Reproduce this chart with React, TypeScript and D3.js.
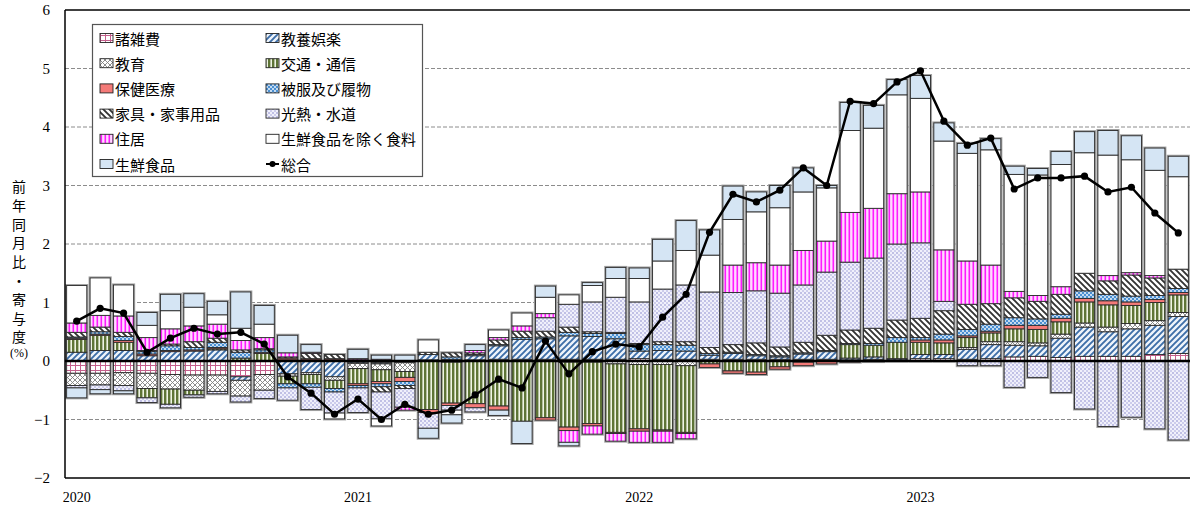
import React from "react";
import * as d3 from "d3";

const months = [
  "2020-01","2020-02","2020-03","2020-04","2020-05","2020-06","2020-07","2020-08","2020-09","2020-10","2020-11","2020-12",
  "2021-01","2021-02","2021-03","2021-04","2021-05","2021-06","2021-07","2021-08","2021-09","2021-10","2021-11","2021-12",
  "2022-01","2022-02","2022-03","2022-04","2022-05","2022-06","2022-07","2022-08","2022-09","2022-10","2022-11","2022-12",
  "2023-01","2023-02","2023-03","2023-04","2023-05","2023-06","2023-07","2023-08","2023-09","2023-10","2023-11","2023-12",
];
const yearLabels = [
  { month: "2020-01", label: "2020" },
  { month: "2021-01", label: "2021" },
  { month: "2022-01", label: "2022" },
  { month: "2023-01", label: "2023" },
];
const yTicks = [-2, -1, 0, 1, 2, 3, 4, 5, 6];

// 諸雑費
const misc = [-0.21,-0.21,-0.2,-0.21,-0.23,-0.24,-0.24,-0.27,-0.23,0.02,0.02,0.02,
  -0.02,-0.03,-0.03,0.02,-0.02,0.02,0.03,0.03,0.03,0.03,0.03,0.03,
  0.04,0.03,0.03,0.03,0.03,0.03,0.03,0.03,0.03,0.02,0.03,0.02,
  0.04,0.04,0.03,0.04,0.07,0.08,0.06,0.08,0.08,0.08,0.11,0.13];
// 教養娯楽
const culture = [0.15,0.18,0.18,0.09,0.16,0.17,0.19,-0.06,0.0,-0.22,-0.2,-0.27,
  -0.02,-0.02,0.0,0.09,0.03,0.07,0.23,0.34,0.35,0.4,0.39,0.35,
  0.13,0.15,0.14,0.07,0.1,0.06,0.04,0.09,0.13,0.03,0.04,0.02,
  0.07,0.07,0.17,0.24,0.2,0.18,0.33,0.5,0.42,0.47,0.5,0.63];
// 教育
const education = [-0.21,-0.2,-0.22,-0.26,-0.25,-0.26,-0.28,-0.27,-0.27,-0.04,-0.03,-0.06,
  -0.09,-0.1,-0.15,0.0,0.0,0.0,0.0,0.0,0.0,-0.02,-0.02,-0.05,
  -0.06,-0.06,-0.08,0.0,0.0,0.0,0.0,0.0,0.0,0.0,0.0,0.0,
  0.0,0.0,0.03,0.05,0.06,0.05,0.07,0.07,0.08,0.09,0.08,0.07];
// 交通・通信
const transport = [0.22,0.26,0.14,-0.16,-0.26,-0.08,0.02,0.05,0.13,-0.13,-0.16,-0.14,
  -0.26,-0.2,-0.1,-0.83,-0.7,-0.73,-0.77,-1.03,-0.97,-1.11,-1.05,-1.17,
  -1.1,-1.12,-1.14,-0.05,-0.17,-0.19,-0.1,-0.02,0.0,0.23,0.2,0.28,
  0.21,0.2,0.17,0.15,0.22,0.23,0.21,0.36,0.38,0.31,0.31,0.3];
// 保健医療
const medical = [0.02,0.02,0.03,0.03,0.02,0.02,0.02,0.0,0.02,0.03,0.02,0.02,
  -0.03,-0.04,-0.07,-0.05,-0.04,-0.07,-0.07,0.0,-0.04,-0.06,-0.04,-0.02,
  -0.04,-0.02,-0.02,-0.06,-0.04,-0.04,-0.04,-0.06,-0.05,-0.02,-0.01,0.0,
  0.04,0.05,0.03,0.03,0.06,0.07,0.06,0.06,0.07,0.06,0.05,0.04];
// 被服及び履物
const clothing = [0.02,0.04,0.07,0.04,0.08,0.04,0.09,0.1,0.04,-0.07,-0.06,-0.06,
  -0.04,-0.05,-0.07,0.0,0.04,0.02,0.02,0.03,0.03,0.06,0.05,0.09,
  0.11,0.1,0.1,0.03,0.02,0.02,0.02,0.02,0.02,0.02,0.03,0.08,
  0.04,0.1,0.11,0.12,0.13,0.11,0.07,0.13,0.11,0.1,0.07,0.07];
// 家具・家事用品
const furniture = [0.08,0.08,0.07,0.02,0.03,0.1,0.07,0.04,0.02,0.02,0.09,0.07,
  0.02,-0.09,-0.05,0.04,0.07,0.03,0.08,0.11,0.1,0.09,0.03,0.02,
  0.02,0.05,0.06,0.1,0.13,0.2,0.15,0.18,0.26,0.23,0.26,0.3,
  0.33,0.4,0.43,0.35,0.34,0.3,0.34,0.3,0.23,0.36,0.3,0.33];
// 光熱・水道
const utilities = [-0.04,-0.08,-0.09,-0.08,-0.06,-0.04,-0.04,-0.1,-0.14,-0.21,-0.38,-0.36,
  -0.42,-0.46,-0.32,-0.27,-0.08,-0.07,0.0,0.0,0.23,0.39,0.51,0.6,
  0.71,0.9,0.97,0.95,0.89,0.89,0.92,0.98,1.08,1.16,1.2,1.3,
  1.29,0.16,-0.08,-0.08,-0.45,-0.28,-0.54,-0.82,-1.12,-0.96,-1.16,-1.35];
// 住居
const housing = [0.16,0.2,0.28,0.22,0.26,0.27,0.24,0.16,0.19,0.07,0.02,0.0,
  0.02,0.03,-0.05,0.0,0.0,0.04,0.04,0.09,0.07,-0.2,-0.14,-0.13,
  -0.19,-0.19,-0.09,0.0,0.47,0.48,0.48,0.59,0.53,0.85,0.85,0.86,
  0.87,0.88,0.74,0.66,0.11,0.1,0.13,0.0,0.09,0.04,0.04,0.0];
// 生鮮食品を除く食料
const foodExFresh = [0.64,0.64,0.53,0.21,0.31,0.32,0.16,0.21,0.23,0.0,0.0,-0.1,
  0.0,-0.12,0.0,0.21,-0.08,0.0,0.13,0.22,0.28,0.16,0.28,0.32,
  0.4,0.48,0.59,0.63,0.78,0.87,0.98,1.0,0.91,1.4,1.37,1.69,
  1.6,1.86,1.84,1.97,2.0,2.06,2.09,2.06,2.06,1.93,1.8,1.58];
// 生鮮食品
const freshFood = [-0.17,-0.07,-0.05,0.22,0.28,0.23,0.23,0.62,0.32,0.3,0.13,0.0,
  0.16,0.07,0.1,-0.17,-0.14,0.1,-0.09,-0.38,0.19,-0.06,0.05,0.19,
  0.18,0.37,0.51,0.43,0.57,0.34,0.38,0.41,0.04,0.48,0.39,0.26,
  0.39,0.31,0.17,0.19,0.14,0.11,0.22,0.36,0.42,0.41,0.38,0.35];
// 総合
const total = [0.68,0.9,0.82,0.15,0.39,0.56,0.46,0.49,0.29,-0.27,-0.55,-0.91,
  -0.65,-1.0,-0.74,-0.91,-0.84,-0.58,-0.31,-0.46,0.34,-0.22,0.16,0.29,
  0.24,0.75,1.14,2.2,2.85,2.72,2.92,3.3,3.0,4.44,4.4,4.77,
  4.96,4.1,3.69,3.81,2.94,3.13,3.13,3.16,2.89,2.97,2.53,2.19];

const seriesNames = ["諸雑費","教養娯楽","教育","交通・通信","保健医療","被服及び履物","家具・家事用品","光熱・水道","住居","生鮮食品を除く食料","生鮮食品"];
const seriesValues = [misc, culture, education, transport, medical, clothing, furniture, utilities, housing, foodExFresh, freshFood];
const lineName = "総合";

const W = 1190, H = 506;
const left = 65, right = 1190, top = 10, bottom = 478;

function Patterns() {
  return (
    <defs>
      <pattern id="p0" patternUnits="userSpaceOnUse" width="5" height="5">
        <rect width="5" height="5" fill="#fff" />
        <path d="M0,0.5H5M0.5,0V5" stroke="#c4608c" strokeWidth="1" />
      </pattern>
      <pattern id="p1" patternUnits="userSpaceOnUse" width="6" height="6">
        <rect width="6" height="6" fill="#eef4fb" />
        <path d="M-1.5,1.5L1.5,-1.5M0,6L6,0M4.5,7.5L7.5,4.5" stroke="#3d6ea8" strokeWidth="1.9" />
      </pattern>
      <pattern id="p2" patternUnits="userSpaceOnUse" width="5" height="5">
        <rect width="5" height="5" fill="#fff" />
        <path d="M0,0L5,5M5,0L0,5" stroke="#808080" strokeWidth="0.9" />
      </pattern>
      <pattern id="p3" patternUnits="userSpaceOnUse" width="4" height="4">
        <rect width="4" height="4" fill="#eef3e4" />
        <rect x="0" width="2.4" height="4" fill="#5e7436" />
      </pattern>
      <pattern id="p5" patternUnits="userSpaceOnUse" width="4" height="4">
        <rect width="4" height="4" fill="#4a8fd2" />
        <circle cx="1" cy="1" r="0.9" fill="#fff" />
        <circle cx="3" cy="3" r="0.9" fill="#fff" />
      </pattern>
      <pattern id="p6" patternUnits="userSpaceOnUse" width="6" height="6">
        <rect width="6" height="6" fill="#fff" />
        <path d="M-1.5,4.5L1.5,7.5M0,0L6,6M4.5,-1.5L7.5,1.5" stroke="#333" strokeWidth="1.9" />
      </pattern>
      <pattern id="p7" patternUnits="userSpaceOnUse" width="4" height="4">
        <rect width="4" height="4" fill="#f0f0fb" />
        <circle cx="1" cy="1" r="0.75" fill="#7878c4" />
        <circle cx="3" cy="3" r="0.75" fill="#9a9ad6" />
      </pattern>
      <pattern id="p8" patternUnits="userSpaceOnUse" width="4" height="4">
        <rect width="4" height="4" fill="#ffd9ff" />
        <rect x="0.5" width="1.6" height="4" fill="#ff1aff" />
      </pattern>
    </defs>
  );
}

const fills = ["url(#p0)", "url(#p1)", "url(#p2)", "url(#p3)", "#f47a78", "url(#p5)", "url(#p6)", "url(#p7)", "url(#p8)", "#ffffff", "#d5e5f4"];

export default function App() {
  const x = d3.scaleBand<string>().domain(months).range([left, right]).paddingInner(0.14).paddingOuter(0.07);
  const y = d3.scaleLinear().domain([-2, 6]).range([bottom, top]);

  const table = months.map((m, i) => {
    const row: any = { month: m };
    seriesNames.forEach((n, k) => (row[n] = seriesValues[k][i]));
    return row;
  });
  const stack = d3.stack<any>().keys(seriesNames).offset(d3.stackOffsetDiverging);
  const layers = stack(table);

  const extents = months.map((m, i) => {
    let lo = 0, hi = 0;
    layers.forEach((l) => {
      lo = Math.min(lo, l[i][0], l[i][1]);
      hi = Math.max(hi, l[i][0], l[i][1]);
    });
    return { m, lo, hi };
  });

  const cx = (m: string) => (x(m) as number) + x.bandwidth() / 2;
  const line = d3.line<number>().x((_, i) => cx(months[i])).y((d) => y(d));

  const serif = "'Liberation Serif','DejaVu Serif',serif";
  const jp = "'Noto Sans CJK JP','Noto Sans CJK SC',sans-serif";
  const axisTitle = ["前", "年", "同", "月", "比", "・", "寄", "与", "度"];

  const legendItems = [...seriesNames.map((n, k) => ({ name: n, fill: fills[k], isLine: false })), { name: lineName, fill: "", isLine: true }];

  return (
    <svg width={W} height={H} style={{ position: "absolute", left: 0, top: 0, background: "#fff" }}>
      <Patterns />
      {yTicks.filter((t) => t !== 0 && t !== 6 && t !== -2).map((t) => (
        <line key={t} x1={left} x2={right} y1={y(t)} y2={y(t)} stroke="#8c8c8c" strokeWidth={1} strokeDasharray="4 2" />
      ))}
      {extents.map((e) => (
        <rect key={"h" + e.m} x={x(e.m)} y={y(e.hi)} width={x.bandwidth()} height={y(e.lo) - y(e.hi)} fill="none" stroke="#a0a0a0" strokeWidth={3} />
      ))}
      {layers.map((layer, k) => (
        <g key={layer.key}>
          {layer.map((d, i) => {
            const y0 = y(Math.max(d[0], d[1]));
            const y1 = y(Math.min(d[0], d[1]));
            if (y1 - y0 < 0.01) return null;
            return <rect key={i} x={x(months[i])} y={y0} width={x.bandwidth()} height={y1 - y0} fill={fills[k]} stroke="#2a2a2a" strokeWidth={0.9} />;
          })}
        </g>
      ))}
      <line x1={left} x2={right} y1={y(0)} y2={y(0)} stroke="#000" strokeWidth={2.5} />
      <line x1={left} x2={right} y1={y(6)} y2={y(6)} stroke="#000" strokeWidth={1.5} />
      <line x1={left} x2={right} y1={y(-2)} y2={y(-2)} stroke="#000" strokeWidth={1.5} />
      <line x1={left} x2={left} y1={y(6)} y2={y(-2)} stroke="#000" strokeWidth={1.5} />
      <path d={line(total) || ""} fill="none" stroke="#000" strokeWidth={2.5} />
      {total.map((v, i) => (
        <circle key={i} cx={cx(months[i])} cy={y(v)} r={3.6} fill="#000" />
      ))}
      {yTicks.map((t) => (
        <text key={t} x={50} y={y(t)} textAnchor="end" dominantBaseline="central" fontFamily={serif} fontSize={15}>
          {t < 0 ? "−" + Math.abs(t) : String(t)}
        </text>
      ))}
      {yearLabels.map((yl) => (
        <text key={yl.label} x={cx(yl.month)} y={497} textAnchor="middle" dominantBaseline="central" fontFamily={serif} fontSize={14}>
          {yl.label}
        </text>
      ))}
      {axisTitle.map((c, i) => (
        <text key={i} x={19} y={186 + i * 18.8} textAnchor="middle" dominantBaseline="central" fontFamily={jp} fontSize={14}>
          {c}
        </text>
      ))}
      <text x={19} y={353} textAnchor="middle" dominantBaseline="central" fontFamily={serif} fontSize={12}>(%)</text>
      <rect x={92.5} y={24.5} width={330} height={152} fill="#fff" stroke="#555" strokeWidth={1.2} />
      {legendItems.map((it, i) => {
        const col = i % 2;
        const row = Math.floor(i / 2);
        const sx = col === 0 ? 100 : 266;
        const cy = 38 + row * 25.2;
        return (
          <g key={it.name}>
            {it.isLine ? (
              <g>
                <line x1={sx} x2={sx + 13} y1={cy} y2={cy} stroke="#000" strokeWidth={2} />
                <circle cx={sx + 6.5} cy={cy} r={3} fill="#000" />
              </g>
            ) : (
              <rect x={sx} y={cy - 4.5} width={13} height={9} fill={it.fill} stroke="#222" strokeWidth={0.9} />
            )}
            <text x={sx + 15} y={cy} dominantBaseline="central" fontFamily={jp} fontSize={15}>
              {it.name}
            </text>
          </g>
        );
      })}
    </svg>
  );
}
